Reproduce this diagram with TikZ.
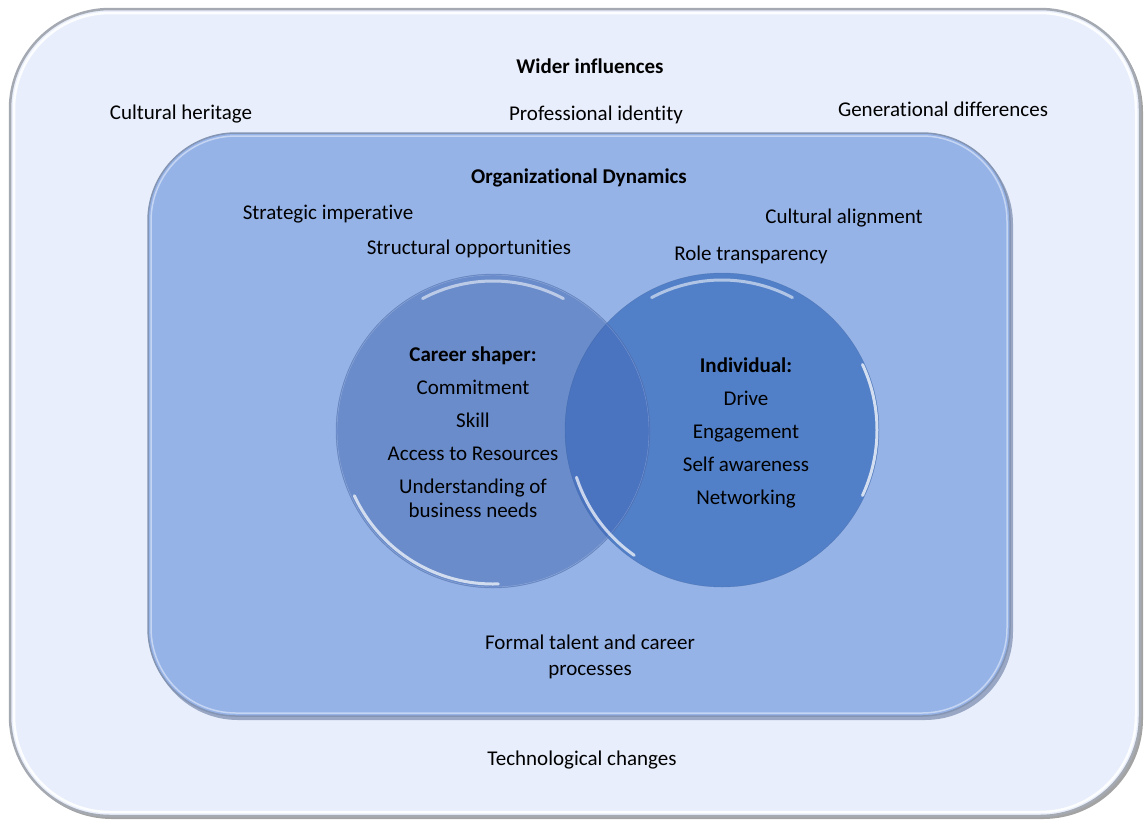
\documentclass[tikz,border=0pt]{standalone}
\usepackage{fontspec}
\setmainfont[Ligatures=NoCommon]{Carlito}
\usetikzlibrary{positioning}
\definecolor{outerfill}{HTML}{E8EEFB}
\definecolor{innerfill}{HTML}{96B3E8}
\definecolor{shaperfill}{HTML}{6A8CCB}
\definecolor{indivfill}{HTML}{5280C8}
\definecolor{overlapfill}{HTML}{4A73C0}
\definecolor{rimgray}{HTML}{A4A9B2}
\definecolor{innerrim}{HTML}{6579A0}

\tikzset{
  lbl/.style={font=\fontsize{21}{24}\selectfont, inner sep=0pt, align=center},
  head/.style={lbl, font=\fontsize{21}{24}\selectfont\bfseries},
  bubble/.style={circle, minimum size=314pt, inner sep=0pt},
  shine/.style={white, line width=3pt, opacity=0.55, line cap=round},
}

\begin{document}
\begin{tikzpicture}[x=1pt,y=-1pt]
\useasboundingbox (0,0) rectangle (1146,823);
% wider frame
\fill[gray!80!black, opacity=0.6, rounded corners=100pt] (12,12) rectangle (1143,819);
\draw[rimgray, line width=2.5pt, fill=outerfill, rounded corners=100pt] (10,9) rectangle (1140,816);
\draw[white, line width=2.5pt, opacity=0.9, rounded corners=96pt] (14,13) rectangle (1136,812);
% organizational frame
\fill[innerrim, opacity=0.6, rounded corners=88pt] (150,136) rectangle (1013,720);
\draw[innerrim!80, line width=1.5pt, fill=innerfill, rounded corners=88pt] (148,133) rectangle (1010,716);
\draw[white, line width=1.5pt, opacity=0.45, rounded corners=85pt] (151,136) rectangle (1007,713);

% the two circles
\node[bubble, fill=shaperfill] (shaper) at (493,431) {};
\node[bubble, fill=indivfill] (individual) at (722,430) {};
\begin{scope}
  \clip (493,431) circle (157pt);
  \fill[overlapfill] (722,430) circle (157pt);
\end{scope}
\draw[white, opacity=0.25] (493,431) circle (156pt);
\draw[indivfill!80!black, opacity=0.5] (722,430) circle (157pt);
\draw[shaperfill!80!black, opacity=0.5] (493,431) circle (157pt);
\draw[shine] (493,431) ++(62:150pt) arc[start angle=62, end angle=118, radius=150pt];
\draw[shine, opacity=0.7] (493,431) ++(205:153pt) arc[start angle=205, end angle=272, radius=153pt];
\draw[shine] (722,430) ++(62:150pt) arc[start angle=62, end angle=118, radius=150pt];
\draw[shine, opacity=0.7] (722,430) ++(198:153pt) arc[start angle=198, end angle=235, radius=153pt];
\draw[shine, opacity=0.75] (722,430) ++(-25:155pt) arc[start angle=-25, end angle=25, radius=155pt];

% wider influences
\node[head] (wider) at (590,66) {Wider influences};
\node[lbl] (heritage) at (181,114) {Cultural heritage};
\node[lbl] (profid) at (596,115) {Professional identity};
\node[lbl] (generations) at (943,109) {Generational differences};
\node[lbl] (tech) at (582,760) {Technological changes};

% organizational dynamics
\node[head] (orgdyn) at (579,178) {Organizational Dynamics};
\node[lbl] (strategic) at (328,214) {Strategic imperative};
\node[lbl] (alignment) at (844,218) {Cultural alignment};
\node[lbl] (structural) at (469,249) {Structural opportunities};
\node[lbl] (roletrans) at (751,255) {Role transparency};
\node[lbl] (formal) at (590,657) {Formal talent and career\\[2pt] processes};

% circle texts
\node[lbl] (shapertext) at (473,432) {\textbf{Career shaper:}\\[9pt] Commitment\\[9pt] Skill\\[9pt]
  Access to Resources\\[9pt] Understanding of\\ business needs};
\node[lbl] (indivtext) at (746,433) {\textbf{Individual:}\\[9pt] Drive\\[9pt] Engagement\\[9pt]
  Self awareness\\[9pt] Networking};
\end{tikzpicture}
\end{document}
